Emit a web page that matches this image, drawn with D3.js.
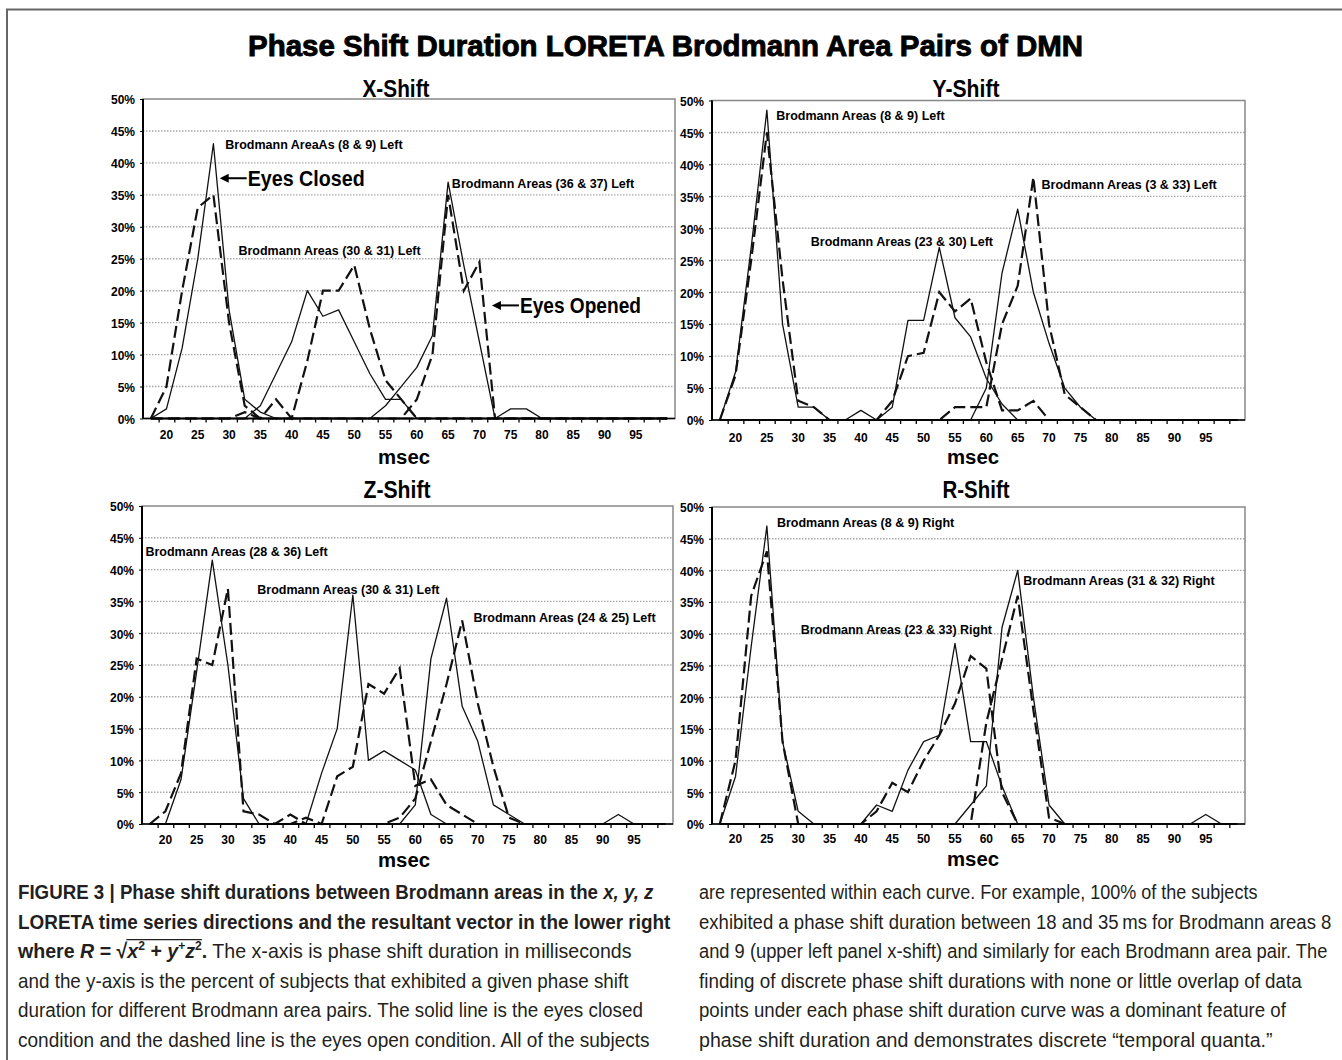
<!DOCTYPE html>
<html>
<head>
<meta charset="utf-8">
<script src="https://cdn.jsdelivr.net/npm/d3@7"></script>
<style>
body { margin: 0; background: #fff; }
svg { display: block; font-family: "Liberation Sans", Arial, sans-serif; }
</style>
</head>
<body>
<div id="chart"></div>
<script>
var width = 1342, height = 1060;

// phase shift duration categories (msec) and axis labels
var categories = [17.5, 20, 22.5, 25, 27.5, 30, 32.5, 35, 37.5, 40, 42.5, 45, 47.5, 50, 52.5, 55, 57.5, 60,
                  62.5, 65, 67.5, 70, 72.5, 75, 77.5, 80, 82.5, 85, 87.5, 90, 92.5, 95, 97.5, 100];
var msecLabels = [20, 25, 30, 35, 40, 45, 50, 55, 60, 65, 70, 75, 80, 85, 90, 95];
var pctTicks = [0, 5, 10, 15, 20, 25, 30, 35, 40, 45, 50];

// % of subjects, one row per Brodmann area pair (solid = eyes closed, dashed = eyes opened)
var xClosed = [
  [0,1.5,11,25,43,17,3,1,0,0,  0,0,0,0,0,0,0,0,0,0,  0,0,0,0,0,0,0,0,0,0,  0,0,0,0],
  [0,0,0,0,0,0,0,2,7,12,  20,16,17,12,7,3,3,0,0,0,  0,0,0,0,0,0,0,0,0,0,  0,0,0,0],
  [0,0,0,0,0,0,0,0,0,0,  0,0,0,0,0,2,5,8,13,37,  24,12,0,1.5,1.5,0,0,0,0,0,  0,0,0,0]
];
var xOpened = [
  [0,5,20,33,35,15,2,0,0,0,  0,0,0,0,0,0,0,0,0,0,  0,0,0,0,0,0,0,0,0,0,  0,0,0,0],
  [0,0,0,0,0,0,1,0,3,0,  9,20,20,24,14,6,3,0,0,0,  0,0,0,0,0,0,0,0,0,0,  0,0,0,0],
  [0,0,0,0,0,0,0,0,0,0,  0,0,0,0,0,0,0,3,10,35,  20,24.5,0,0,0,0,0,0,0,0,  0,0,0,0]
];
var yClosed = [
  [0,7.5,27,48.5,15,2,2,0,0,0,  0,0,0,0,0,0,0,0,0,0,  0,0,0,0,0,0,0,0,0,0,  0,0,0,0],
  [0,0,0,0,0,0,0,0,0,1.5,  0,2,15.6,15.6,27,16,13,6.5,2.5,0,  0,0,0,0,0,0,0,0,0,0,  0,0,0,0],
  [0,0,0,0,0,0,0,0,0,0,  0,0,0,0,0,0,0,5,23,33,  20,12,5,2,0,0,0,0,0,0,  0,0,0,0]
];
var yOpened = [
  [0,7,25,45,22,3,2,0,0,0,  0,0,0,0,0,0,0,0,0,0,  0,0,0,0,0,0,0,0,0,0,  0,0,0,0],
  [0,0,0,0,0,0,0,0,0,0,  0,3,10,10.5,20,17,19,9,1.5,1.5,  3,0,0,0,0,0,0,0,0,0,  0,0,0,0],
  [0,0,0,0,0,0,0,0,0,0,  0,0,0,0,0,2,2,2,15,21,  38,15,4,2,0,0,0,0,0,0,  0,0,0,0]
];
var zClosed = [
  [0,0,7,24,41.5,25,4,0,0,0,  0,0,0,0,0,0,0,0,0,0,  0,0,0,0,0,0,0,0,0,0,  0,0,0,0],
  [0,0,0,0,0,0,0,0,0,0,  0,8,15,36,10,11.5,10,8.5,1.5,0,  0,0,0,0,0,0,0,0,0,0,  0,0,0,0],
  [0,0,0,0,0,0,0,0,0,0,  0,0,0,0,0,0,0,3,26,35.5,  18.5,13,3,1.5,0,0,0,0,0,0,  1.5,0,0,0]
];
var zOpened = [
  [0,2,8,26,25,37,2,1.5,0,1.5,  0,0,0,0,0,0,0,0,0,0,  0,0,0,0,0,0,0,0,0,0,  0,0,0,0],
  [0,0,0,0,0,0,0,0,0,0,  1,0,7.5,9,22,20.5,24.5,6,7,3,  1.5,0,0,0,0,0,0,0,0,0,  0,0,0,0],
  [0,0,0,0,0,0,0,0,0,0,  0,0,0,0,0,0,1,4,13,22,  32,19,9,1,0,0,0,0,0,0,  0,0,0,0]
];
var rClosed = [
  [0,7.5,28,47,13,2,0,0,0,0,  0,0,0,0,0,0,0,0,0,0,  0,0,0,0,0,0,0,0,0,0,  0,0,0,0],
  [0,0,0,0,0,0,0,0,0,0,  3,2,8.5,13,14,28.5,13,13,6,0,  0,0,0,0,0,0,0,0,0,0,  0,0,0,0],
  [0,0,0,0,0,0,0,0,0,0,  0,0,0,0,0,0,3,6,31,40,  20,3,0,0,0,0,0,0,0,0,  0,1.5,0,0]
];
var rOpened = [
  [0,10,36,43,13,0,0,0,0,0,  0,0,0,0,0,0,0,0,0,0,  0,0,0,0,0,0,0,0,0,0,  0,0,0,0],
  [0,0,0,0,0,0,0,0,0,0,  2,6.5,5,10,14,19,26.5,24.5,5,0,  0,0,0,0,0,0,0,0,0,0,  0,0,0,0],
  [0,0,0,0,0,0,0,0,0,0,  0,0,0,0,0,0,0,16,26,36,  18,1,0,0,0,0,0,0,0,0,  0,0,0,0]
];

// curve labels, anchored in data units (msec, %)
var xNotes = [
  {text: "Brodmann AreaAs (8 & 9) Left", ms: 29.4, pct: 42.8},
  {text: "Brodmann Areas (36 & 37) Left", ms: 65.6, pct: 36.8},
  {text: "Brodmann Areas (30 & 31) Left", ms: 31.5, pct: 26.3}
];
var yNotes = [
  {text: "Brodmann Areas (8 & 9) Left", ms: 26.5, pct: 47.6},
  {text: "Brodmann Areas (23 & 30) Left", ms: 32, pct: 27.9},
  {text: "Brodmann Areas (3 & 33) Left", ms: 68.8, pct: 36.8}
];
var zNotes = [
  {text: "Brodmann Areas (28 & 36) Left", ms: 16.8, pct: 42.9},
  {text: "Brodmann Areas (30 & 31) Left", ms: 34.7, pct: 36.9},
  {text: "Brodmann Areas (24 & 25) Left", ms: 69.3, pct: 32.4}
];
var rNotes = [
  {text: "Brodmann Areas (8 & 9) Right", ms: 26.6, pct: 47.5},
  {text: "Brodmann Areas (31 & 32) Right", ms: 65.9, pct: 38.4},
  {text: "Brodmann Areas (23 & 33) Right", ms: 30.4, pct: 30.7}
];
var xArrows = [
  {text: "Eyes Closed", ms: 28.5, pct: 37.6, len: 117},
  {text: "Eyes Opened", ms: 72, pct: 17.7, len: 121}
];

var captionLeft = [
  [["b", "FIGURE 3 | Phase shift durations between Brodmann areas in the "], ["bi", "x, y, z"]],
  [["b", "LORETA time series directions and the resultant vector in the lower right"]],
  [["b", "where "], ["bi", "R"], ["b", " = \u221A"], ["bir", "x"], ["sr", "2"], ["br", " + "], ["bir", "y"], ["sr", "+"],
   ["bir", "z"], ["sr", "2"], ["b", "."], ["n", " The x-axis is phase shift duration in milliseconds"]],
  [["n", "and the y-axis is the percent of subjects that exhibited a given phase shift"]],
  [["n", "duration for different Brodmann area pairs. The solid line is the eyes closed"]],
  [["n", "condition and the dashed line is the eyes open condition. All of the subjects"]]
];
var captionRight = [
  [["n", "are represented within each curve. For example, 100% of the subjects"]],
  [["n", "exhibited a phase shift duration between 18 and 35\u2009ms for Brodmann areas 8"]],
  [["n", "and 9 (upper left panel x-shift) and similarly for each Brodmann area pair. The"]],
  [["n", "finding of discrete phase shift durations with none or little overlap of data"]],
  [["n", "points under each phase shift duration curve was a dominant feature of"]],
  [["n", "phase shift duration and demonstrates discrete \u201Ctemporal quanta.\u201D"]]
];

var svg = d3.select("#chart").append("svg")
  .attr("width", width)
  .attr("height", height);

// figure frame
svg.append("path")
  .attr("d", "M7,1060V9.5H1342")
  .attr("fill", "none")
  .attr("stroke", "#666")
  .attr("stroke-width", 2);

svg.append("text")
  .attr("x", 248)
  .attr("y", 56)
  .attr("textLength", 835)
  .attr("lengthAdjust", "spacingAndGlyphs")
  .attr("stroke", "#000")
  .attr("stroke-width", 0.9)
  .style("font-size", "29px")
  .style("font-weight", "bold")
  .text("Phase Shift Duration LORETA  Brodmann Area Pairs of DMN");

var panels = [
  {title: "X-Shift", closed: xClosed, opened: xOpened, notes: xNotes, arrows: xArrows,
   left: 143, right: 675, top: 99, bottom: 418.5, titleX: 396, titleY: 97, tickY: 439, msecX: 404, msecY: 464},
  {title: "Y-Shift", closed: yClosed, opened: yOpened, notes: yNotes, arrows: [],
   left: 712, right: 1245, top: 100.5, bottom: 420, titleX: 966, titleY: 97, tickY: 442, msecX: 973, msecY: 464},
  {title: "Z-Shift", closed: zClosed, opened: zOpened, notes: zNotes, arrows: [],
   left: 142, right: 673, top: 506, bottom: 824, titleX: 397, titleY: 498, tickY: 844, msecX: 404, msecY: 867},
  {title: "R-Shift", closed: rClosed, opened: rOpened, notes: rNotes, arrows: [],
   left: 712, right: 1245, top: 507, bottom: 824, titleX: 976, titleY: 498, tickY: 843, msecX: 973, msecY: 866}
];

panels.forEach(drawPanel);

function drawPanel(p) {
  var x = d3.scaleLinear().domain([16.25, 101.25]).range([p.left, p.right]);
  var y = d3.scaleLinear().domain([0, 50]).range([p.bottom, p.top]);
  var g = svg.append("g");

  g.append("text")
    .attr("x", p.titleX)
    .attr("y", p.titleY)
    .attr("text-anchor", "middle")
    .attr("textLength", 67)
    .attr("lengthAdjust", "spacingAndGlyphs")
    .style("font-size", "23px")
    .style("font-weight", "bold")
    .text(p.title);

  // dotted gridlines
  g.selectAll(".grid")
    .data(pctTicks.filter(function(d) { return d > 0 && d < 50; }))
    .enter().append("line")
      .attr("x1", p.left)
      .attr("x2", p.right)
      .attr("y1", y)
      .attr("y2", y)
      .attr("stroke", "#a8a8a8")
      .attr("stroke-width", 1.4)
      .attr("stroke-dasharray", "1.5,1.5");

  g.append("rect")
    .attr("x", p.left)
    .attr("y", p.top)
    .attr("width", p.right - p.left)
    .attr("height", p.bottom - p.top)
    .attr("fill", "none")
    .attr("stroke", "#888")
    .attr("stroke-width", 1.5);

  // y axis
  var yAxis = g.append("g")
    .attr("transform", "translate(" + p.left + ",0)")
    .call(d3.axisLeft(y).tickValues(pctTicks).tickSize(3).tickPadding(5)
      .tickFormat(function(d) { return d + "%"; }));
  yAxis.select(".domain").remove();
  yAxis.selectAll("text")
    .attr("font-family", null)
    .style("font-size", "12px")
    .style("font-weight", "bold")
    .attr("dy", "0.4em");

  // x axis: tick marks between categories, labels on every other category
  var bounds = categories.slice(0, -1).map(function(c) { return c + 1.25; });
  var xTicks = g.append("g")
    .attr("transform", "translate(0," + p.bottom + ")")
    .call(d3.axisBottom(x).tickValues(bounds).tickSize(4).tickFormat(""));
  xTicks.select(".domain").remove();
  xTicks.selectAll("line").attr("stroke-width", 1.3);

  g.selectAll(".xlab")
    .data(msecLabels)
    .enter().append("text")
      .attr("x", x)
      .attr("y", p.tickY)
      .attr("text-anchor", "middle")
      .style("font-size", "12px")
      .style("font-weight", "bold")
      .text(function(d) { return d; });

  g.append("text")
    .attr("x", p.msecX)
    .attr("y", p.msecY)
    .attr("text-anchor", "middle")
    .attr("textLength", 52)
    .attr("lengthAdjust", "spacingAndGlyphs")
    .style("font-size", "20px")
    .style("font-weight", "bold")
    .text("msec");

  var line = d3.line()
    .x(function(d, i) { return x(categories[i]); })
    .y(function(d) { return y(d); });

  g.selectAll(".closed")
    .data(p.closed)
    .enter().append("path")
      .attr("d", line)
      .attr("fill", "none")
      .attr("stroke", "#111")
      .attr("stroke-width", 1.3)
      .attr("stroke-linejoin", "round");

  g.selectAll(".opened")
    .data(p.opened)
    .enter().append("path")
      .attr("d", line)
      .attr("fill", "none")
      .attr("stroke", "#111")
      .attr("stroke-width", 2.2)
      .attr("stroke-dasharray", "12,5");

  g.append("line")
    .attr("x1", p.left).attr("x2", p.left)
    .attr("y1", p.top).attr("y2", p.bottom)
    .attr("stroke", "#000")
    .attr("stroke-width", 2);
  g.append("line")
    .attr("x1", p.left).attr("x2", p.right)
    .attr("y1", p.bottom).attr("y2", p.bottom)
    .attr("stroke", "#000")
    .attr("stroke-width", 1.5);

  g.selectAll(".note")
    .data(p.notes)
    .enter().append("text")
      .attr("x", function(d) { return x(d.ms); })
      .attr("y", function(d) { return y(d.pct); })
      .attr("dy", "0.35em")
      .style("font-size", "12.5px")
      .style("font-weight", "bold")
      .text(function(d) { return d.text; });

  var arrows = g.selectAll(".arrow")
    .data(p.arrows)
    .enter().append("g")
      .attr("transform", function(d) { return "translate(" + x(d.ms) + "," + y(d.pct) + ")"; });
  arrows.append("path")
    .attr("d", "M0,0L9,-4.5L9,4.5Z")
    .attr("fill", "#000");
  arrows.append("line")
    .attr("x1", 6).attr("x2", 27)
    .attr("stroke", "#000")
    .attr("stroke-width", 2);
  arrows.append("text")
    .attr("x", 28)
    .attr("dy", "0.36em")
    .attr("textLength", function(d) { return d.len; })
    .attr("lengthAdjust", "spacingAndGlyphs")
    .style("font-size", "22px")
    .style("font-weight", "bold")
    .text(function(d) { return d.text; });
}

// caption, each line squeezed horizontally to the reference width
drawCaption(captionLeft, 18, [636, 653, 614, 611, 625, 632]);
drawCaption(captionRight, 699, [559, 633, 629, 603, 587, 574]);

function drawCaption(lines, x0, widths) {
  lines.forEach(function(segs, i) {
    var y0 = 899 + i * 29.5;
    var g = svg.append("g");
    var t = g.append("text")
      .attr("fill", "#231f20")
      .style("font-size", "21px");
    var shift = 0;
    segs.forEach(function(s) {
      var kind = s[0];
      var ts = t.append("tspan").text(s[1]);
      if (kind.indexOf("b") === 0) ts.style("font-weight", "bold");
      if (kind.indexOf("i") >= 0) ts.style("font-style", "italic");
      if (kind.indexOf("s") === 0) {
        ts.style("font-size", "13px").style("font-weight", "bold").attr("dy", -8 - shift);
        shift = -8;
      } else if (shift !== 0) {
        ts.attr("dy", -shift);
        shift = 0;
      }
      if (kind.slice(-1) === "r") ts.classed("rad", true);
    });
    var natural = t.node().getComputedTextLength();
    g.attr("transform", "translate(" + x0 + "," + y0 + ") scale(" + (widths[i] / natural) + ",1)");

    var rad = t.selectAll(".rad").nodes();
    if (rad.length) {
      var x1 = Infinity, x2 = -Infinity, top = Infinity;
      rad.forEach(function(n) {
        var b = n.getBBox();
        x1 = Math.min(x1, b.x);
        x2 = Math.max(x2, b.x + b.width);
        top = Math.min(top, b.y);
      });
      g.append("line")
        .attr("x1", x1).attr("x2", x2)
        .attr("y1", top + 1).attr("y2", top + 1)
        .attr("stroke", "#231f20")
        .attr("stroke-width", 1.4);
    }
  });
}
</script>
</body>
</html>
